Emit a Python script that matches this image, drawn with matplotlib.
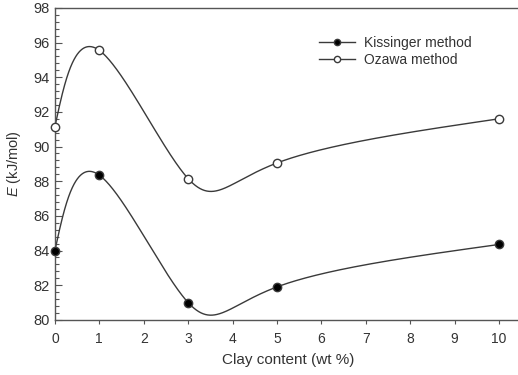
import numpy as np
import matplotlib
matplotlib.use("Agg")
import matplotlib.pyplot as plt
from matplotlib.ticker import MultipleLocator

plt.rcParams['font.family'] = ['Liberation Sans', 'DejaVu Sans']
plt.rcParams['mathtext.fontset'] = 'custom'
plt.rcParams['mathtext.it'] = 'Liberation Sans:italic'
plt.rcParams['mathtext.rm'] = 'Liberation Sans'

clay = [0, 1, 3, 5, 10]
kissinger = [84.0, 88.35, 81.0, 81.9, 84.35]
ozawa = [91.15, 95.55, 88.15, 89.05, 91.6]


def spline_coeffs(t, y):
    # second derivatives of a natural cubic spline y(t)
    k = len(t)
    h = np.diff(t)
    A = np.zeros((k, k))
    b = np.zeros(k)
    A[0, 0] = A[-1, -1] = 1
    for i in range(1, k - 1):
        A[i, i - 1] = h[i - 1]
        A[i, i] = 2 * (h[i - 1] + h[i])
        A[i, i + 1] = h[i]
        b[i] = 6 * ((y[i + 1] - y[i]) / h[i] - (y[i] - y[i - 1]) / h[i - 1])
    return np.linalg.solve(A, b)


def spline_eval(t, y, M, ts):
    idx = np.clip(np.searchsorted(t, ts) - 1, 0, len(t) - 2)
    t0, t1 = t[idx], t[idx + 1]
    hh = t1 - t0
    a, c = t1 - ts, ts - t0
    return (M[idx] * a**3 + M[idx + 1] * c**3) / (6 * hh) \
        + (y[idx] / hh - M[idx] * hh / 6) * a \
        + (y[idx + 1] / hh - M[idx + 1] * hh / 6) * c


def smooth_curve(x, y, n=600):
    # parametric spline with one parameter step per point
    x = np.asarray(x, float)
    y = np.asarray(y, float)
    t = np.arange(len(x), dtype=float)
    ts = np.linspace(0, t[-1], n)
    xs = spline_eval(t, x, spline_coeffs(t, x), ts)
    ys = spline_eval(t, y, spline_coeffs(t, y), ts)
    return xs, ys


line_col = '#3a3a3a'
text_col = '#333333'

fig = plt.figure(figsize=(5.18, 3.75), dpi=100)
ax = fig.add_axes([0.106, 0.147, 0.90, 0.832])

for vals, face, lab in [(kissinger, 'black', 'Kissinger method'),
                        (ozawa, 'white', 'Ozawa method')]:
    xs, ys = smooth_curve(clay, vals)
    ax.plot(xs, ys, color=line_col, lw=1.0, zorder=2)
    ax.plot(clay, vals, 'o', ms=6, mfc=face, mec=line_col, mew=1.0,
            zorder=3, clip_on=False)
    ax.plot([], [], '-o', color=line_col, lw=1.0, ms=4.5, mfc=face,
            mec=line_col, mew=1.0, label=lab)

ax.set_xlim(0, 10.5)
ax.set_ylim(80, 98)
ax.set_xticks(range(0, 11))
ax.yaxis.set_major_locator(MultipleLocator(2))
ax.yaxis.set_minor_locator(MultipleLocator(0.4))

ax.tick_params(axis='y', which='major', direction='in', length=5,
               width=0.8, color='#555555', labelsize=10.5, labelcolor=text_col, pad=4)
ax.tick_params(axis='y', which='minor', direction='in', length=3,
               width=0.8, color='#555555')
ax.tick_params(axis='x', which='major', direction='out', length=3,
               width=0.8, color='#555555', labelsize=10, labelcolor=text_col, pad=6)

for s in ax.spines.values():
    s.set_color('#555555')
    s.set_linewidth(1.0)

ax.set_xlabel('Clay content (wt %)', fontsize=11, color=text_col, labelpad=5)
ax.set_ylabel(r'$\mathit{E}$ (kJ/mol)', fontsize=10.5, color=text_col, labelpad=7)

ax.legend(loc='upper left', bbox_to_anchor=(0.54, 0.95), frameon=False,
          fontsize=10, handlelength=2.6, handletextpad=0.6, labelspacing=0.2,
          labelcolor=text_col)

fig.savefig('out.png', dpi=100)
